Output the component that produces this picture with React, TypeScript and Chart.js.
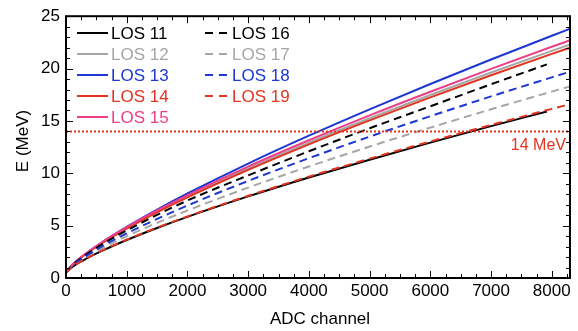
import React, { useEffect, useRef } from "react";
import { Chart, registerables } from "chart.js";
Chart.register(...registerables);

// ADC channel positions (x) at which the curves were read
const adcChannels = [0, 100, 300, 600, 1000, 1500, 2000, 3000, 4000, 5000, 6000, 7000, 8000, 8300];
const adcChannelsShort = [0, 100, 300, 600, 1000, 1500, 2000, 3000, 4000, 5000, 6000, 7000, 7920];

// Energy (MeV) per line of sight
const los11 = [0.5, 1.03, 1.74, 2.61, 3.63, 4.78, 5.84, 7.79, 9.6, 11.3, 12.93, 14.5, 15.9];
const los12 = [0.5, 1.23, 2.19, 3.38, 4.77, 6.34, 7.79, 10.46, 12.93, 15.26, 17.48, 19.62, 21.69, 22.3];
const los13 = [0.5, 1.21, 2.19, 3.43, 4.88, 6.53, 8.07, 10.93, 13.59, 16.11, 18.53, 20.87, 23.13, 23.8];
const los14 = [0.5, 1.22, 2.17, 3.34, 4.71, 6.26, 7.69, 10.32, 12.76, 15.05, 17.25, 19.36, 21.4, 22.0];
const los15 = [0.5, 1.24, 2.22, 3.44, 4.85, 6.45, 7.92, 10.64, 13.15, 15.53, 17.79, 19.97, 22.08, 22.7];
const los16 = [0.5, 1.19, 2.1, 3.23, 4.54, 6.03, 7.4, 9.8, 12.1, 14.3, 16.4, 18.5, 20.4];
const los17 = [0.5, 1.09, 1.88, 2.85, 3.99, 5.27, 6.45, 8.63, 10.65, 12.55, 14.36, 16.11, 17.8, 18.3];
const los18 = [0.5, 1.14, 1.99, 3.04, 4.26, 5.64, 6.92, 9.27, 11.44, 13.5, 15.45, 17.34, 19.16, 19.7];
const los19 = [0.5, 1.04, 1.75, 2.63, 3.66, 4.81, 5.88, 7.85, 9.68, 11.4, 13.04, 14.62, 16.15, 16.6];

const seriesNames = ["LOS 11", "LOS 12", "LOS 13", "LOS 14", "LOS 15", "LOS 16", "LOS 17", "LOS 18", "LOS 19"];
const seriesValues = [los11, los12, los13, los14, los15, los16, los17, los18, los19];
const seriesX = [adcChannelsShort, adcChannels, adcChannels, adcChannels, adcChannels, adcChannelsShort, adcChannels, adcChannels, adcChannels];
const seriesColors = ["#000000", "#a6a6a6", "#1c37d2", "#e2341f", "#ec3f88", "#000000", "#a6a6a6", "#1c37d2", "#e2341f"];
const seriesDashed = [false, false, false, false, false, true, true, true, true];

const xTickValues = [0, 1000, 2000, 3000, 4000, 5000, 6000, 7000, 8000];
const yTickValues = [0, 5, 10, 15, 20, 25];

const thresholdMeV = 14;
const thresholdLabel = "14 MeV";
const xMin = 0;
const xMax = 8300;
const yMin = 0;
const yMax = 25;

const FONT = '"Liberation Sans", Arial, sans-serif';

const framePlugin = {
  id: "frame",
  afterDraw(chart: any) {
    const { ctx, chartArea, scales } = chart;
    const { left, right, top, bottom } = chartArea;
    const x = scales.x;
    const y = scales.y;
    ctx.save();
    ctx.strokeStyle = "#000";
    ctx.lineWidth = 1;
    const seg = (x1: number, y1: number, x2: number, y2: number) => {
      ctx.beginPath();
      ctx.moveTo(x1, y1);
      ctx.lineTo(x2, y2);
      ctx.stroke();
    };
    for (let v = xMin; v <= xMax; v += 250) {
      const px = Math.round(x.getPixelForValue(v)) + 0.5;
      const len = v % 1000 === 0 ? 7 : 4;
      seg(px, bottom, px, bottom - len);
      seg(px, top, px, top + len);
    }
    for (let v = yMin; v <= yMax; v += 1) {
      const py = Math.round(y.getPixelForValue(v)) + 0.5;
      const len = v % 5 === 0 ? 7 : 4;
      seg(left, py, left + len, py);
      seg(right, py, right - len, py);
    }
    ctx.lineWidth = 2;
    ctx.strokeRect(left, top, right - left, bottom - top);

    // threshold label
    ctx.fillStyle = "#e2341f";
    ctx.font = `16px ${FONT}`;
    ctx.textAlign = "right";
    ctx.textBaseline = "middle";
    ctx.fillText(thresholdLabel, right - 4, y.getPixelForValue(thresholdMeV) + 14);

    // axis titles
    ctx.fillStyle = "#000";
    ctx.font = `17px ${FONT}`;
    ctx.textAlign = "center";
    ctx.fillText("ADC channel", (left + right) / 2 + 2, 319);
    ctx.save();
    ctx.translate(23, 141);
    ctx.rotate(-Math.PI / 2);
    ctx.fillText("E (MeV)", 0, 0);
    ctx.restore();

    // legend
    ctx.font = `17px ${FONT}`;
    ctx.textAlign = "left";
    seriesNames.forEach((name, i) => {
      const col = i < 5 ? 0 : 1;
      const row = i < 5 ? i : i - 5;
      const cy = 33 + row * 21;
      const x0 = col === 0 ? 77 : 205;
      const x1 = col === 0 ? 108 : 227;
      const tx = col === 0 ? 111 : 232;
      ctx.strokeStyle = seriesColors[i];
      ctx.lineWidth = 2;
      ctx.setLineDash(seriesDashed[i] ? [8, 6] : []);
      seg(x0, cy, x1, cy);
      ctx.setLineDash([]);
      ctx.fillStyle = seriesColors[i];
      ctx.fillText(name, tx, cy + 1);
    });
    ctx.restore();
  },
};

export default function App() {
  const canvasRef = useRef<HTMLCanvasElement | null>(null);
  useEffect(() => {
    document.body.style.margin = "0";
    const canvas = canvasRef.current;
    if (!canvas) return;
    const datasets: any[] = seriesNames.map((name, i) => ({
      label: name,
      data: seriesValues[i].map((v, k) => ({ x: seriesX[i][k], y: v })),
      borderColor: seriesColors[i],
      backgroundColor: seriesColors[i],
      borderWidth: 2,
      borderDash: seriesDashed[i] ? [8, 5] : [],
      pointRadius: 0,
      cubicInterpolationMode: "monotone",
      fill: false,
      order: 20 - i,
    }));
    datasets.push({
      label: thresholdLabel,
      data: [
        { x: xMin, y: thresholdMeV },
        { x: xMax, y: thresholdMeV },
      ],
      borderColor: "#e2341f",
      borderWidth: 2,
      borderDash: [2, 2],
      pointRadius: 0,
      fill: false,
      order: 0,
    });
    const chart = new Chart(canvas, {
      type: "line",
      data: { datasets },
      options: {
        responsive: false,
        animation: false,
        layout: { padding: { top: 15, right: 8, left: 0, bottom: 0 } },
        plugins: { legend: { display: false }, tooltip: { enabled: false } },
        scales: {
          x: {
            type: "linear",
            min: xMin,
            max: xMax,
            grid: { display: false, drawTicks: false },
            border: { display: false },
            afterBuildTicks: (s: any) => {
              s.ticks = xTickValues.map((v) => ({ value: v }));
            },
            afterFit: (s: any) => {
              s.height = 53;
            },
            ticks: {
              autoSkip: false,
              maxRotation: 0,
              padding: 3,
              color: "#000",
              font: { family: FONT, size: 17 },
              callback: (v: any) => String(v),
            },
          },
          y: {
            type: "linear",
            min: yMin,
            max: yMax,
            grid: { display: false, drawTicks: false },
            border: { display: false },
            afterBuildTicks: (s: any) => {
              s.ticks = yTickValues.map((v) => ({ value: v }));
            },
            afterFit: (s: any) => {
              s.width = 66;
            },
            ticks: {
              padding: 6,
              color: "#000",
              font: { family: FONT, size: 17 },
              callback: (v: any) => String(v),
            },
          },
        },
      },
      plugins: [framePlugin],
    } as any);
    return () => chart.destroy();
  }, []);
  return (
    <div style={{ width: 578, height: 331 }}>
      <canvas ref={canvasRef} width={578} height={331} style={{ display: "block" }} />
    </div>
  );
}
